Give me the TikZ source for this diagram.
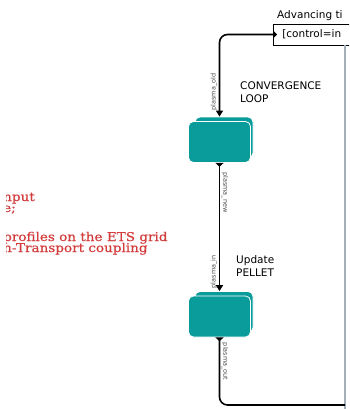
\documentclass[tikz,border=0pt]{standalone}
\usepackage{fontspec}
\setmainfont{DejaVu Sans}
\newfontfamily\notefont[FakeStretch=1.12,FakeBold=0.6]{DejaVu Serif}
\usetikzlibrary{arrows.meta, positioning, calc}

\definecolor{modteal}{RGB}{10,155,155}
\definecolor{notered}{RGB}{210,60,60}
\definecolor{framegray}{RGB}{165,175,185}

\begin{document}
\begin{tikzpicture}[
    x=1pt, y=1pt,
    font=\fontsize{10.5}{13}\selectfont,
    modfront/.style={rectangle, rounded corners=5pt, fill=modteal, draw=white,
                     line width=0.8pt, minimum width=62pt, minimum height=41pt},
    modback/.style={modfront, minimum width=58pt, minimum height=41pt},
    modlabel/.style={anchor=north west, align=left, inner sep=0pt},
    note/.style={anchor=base west, inner sep=0pt, text=notered,
                 font=\notefont\fontsize{12.1}{11}\selectfont},
    pipe/.style={line width=1.6pt, rounded corners=8pt},
    feed/.style={pipe, {Triangle[length=4pt,width=8pt]}-{Triangle[length=6pt,width=7pt]}},
    chain/.style={pipe, {Triangle[length=4pt,width=8pt,reversed]}-{Triangle[length=6pt,width=7pt]}},
    drain/.style={pipe, {Triangle[length=4pt,width=8pt,reversed]}-},
    portlabel/.style={font=\fontsize{6.5}{7}\selectfont, text=black!70, inner sep=1.5pt},
]
\useasboundingbox (0,0) rectangle (349,-409);
\clip (0,0) rectangle (349,-409);

% red notes, cut at the left
\begin{scope}
  \clip (6,-150) rectangle (200,-280);
  \node[note] (note1) at (3,-201) {nput};
  \node[note] (note2) at (3,-212) {e;};
  \node[note] (note3) at (3,-241) {profiles on the ETS grid};
  \node[note] (note4) at (3,-252) {n-Transport coupling};
\end{scope}

% outer block
\node[anchor=base west, inner sep=0pt] (advlbl) at (277,-18.5) {Advancing ti};
\node[draw, line width=0.6pt, anchor=west, minimum height=21pt, text width=80pt,
      inner xsep=9pt, align=left] (ctrl) at (273,-34.5) {[control=in};
\draw[framegray, line width=1.2pt] (345,-45) -- (345,-409);

% actors
\node[modback]  (convback) at (224,-137.5) {};
\node[modfront] (conv)     at (219.5,-142) {};
\node[modlabel] (convlbl)  at (240,-82)    {CONVERGENCE\\LOOP};

\node[modback]  (updback)  at (224,-312)   {};
\node[modfront] (upd)      at (219.5,-316.5) {};
\node[modlabel] (updlbl)   at (236,-255)   {Update\\PELLET};

\coordinate (frameend) at (345,-405);

% links
\draw[feed] ([xshift=4pt]ctrl.west) -| (conv.north |- convback.north)
    node[portlabel, pos=0.85, rotate=90, anchor=south] {plasma\_old};
\draw[chain] (conv.south) -- (conv.south |- updback.north)
    node[portlabel, pos=0.23, rotate=-90, anchor=south] {plasma\_new}
    node[portlabel, pos=0.85, rotate=90, anchor=south] {plasma\_in};
\draw[drain] (upd.south) |- (frameend)
    node[portlabel, pos=0.18, rotate=-90, anchor=south] {plasma\_out};

\end{tikzpicture}
\end{document}
